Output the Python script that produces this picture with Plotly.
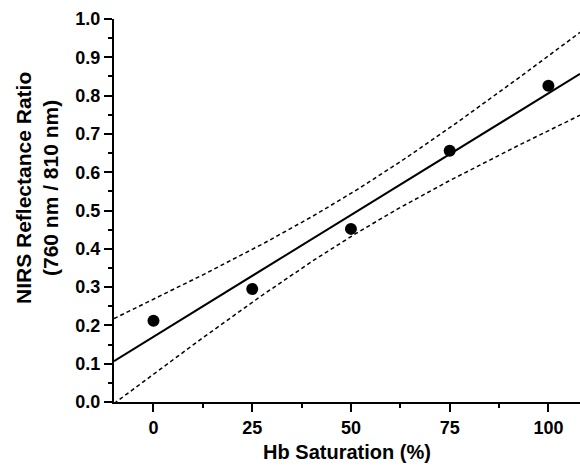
import numpy as np
import plotly.graph_objects as go

# Hb saturation (%) and measured NIRS reflectance ratio (760 nm / 810 nm)
saturation = [0, 25, 50, 75, 100]
ratio = [0.212, 0.295, 0.452, 0.656, 0.826]

x_ticks = [0, 25, 50, 75, 100]
y_ticks = [0.0, 0.1, 0.2, 0.3, 0.4, 0.5, 0.6, 0.7, 0.8, 0.9, 1.0]
x_range = [-10, 108]

# Linear regression with 95% confidence band of the mean
x = np.array(saturation, dtype=float)
y = np.array(ratio, dtype=float)
n = len(x)
slope, intercept = np.polyfit(x, y, 1)
resid = y - (slope * x + intercept)
s = np.sqrt(np.sum(resid ** 2) / (n - 2))
sxx = np.sum((x - x.mean()) ** 2)
t_crit = 3.182  # t(0.975, df=3)

xf = np.linspace(x_range[0], x_range[1], 200)
yf = slope * xf + intercept
half = t_crit * s * np.sqrt(1.0 / n + (xf - x.mean()) ** 2 / sxx)

font = dict(family="Liberation Sans, Arial, sans-serif", color="black")

fig = go.Figure()
fig.add_trace(go.Scatter(x=xf, y=yf + half, mode="lines",
                         line=dict(color="black", width=1.5, dash="4px,3px"),
                         hoverinfo="skip", showlegend=False))
fig.add_trace(go.Scatter(x=xf, y=yf - half, mode="lines",
                         line=dict(color="black", width=1.5, dash="4px,3px"),
                         hoverinfo="skip", showlegend=False))
fig.add_trace(go.Scatter(x=xf, y=yf, mode="lines",
                         line=dict(color="black", width=2),
                         showlegend=False))
fig.add_trace(go.Scatter(x=saturation, y=ratio, mode="markers",
                         marker=dict(color="black", size=12),
                         showlegend=False))

plot_left, plot_w = 114, 466
plot_top, plot_h = 19, 383

fig.update_layout(
    width=580, height=469,
    margin=dict(l=plot_left, r=0, t=plot_top, b=469 - plot_top - plot_h),
    paper_bgcolor="white", plot_bgcolor="white",
    font=font,
    annotations=[dict(
        text="<b>NIRS Reflectance Ratio<br>(760 nm / 810 nm)</b>",
        xref="paper", yref="paper",
        x=(37 - plot_left) / plot_w, y=(plot_top + plot_h - 188) / plot_h,
        xanchor="center", yanchor="middle", textangle=-90,
        showarrow=False, font=dict(size=21, **font),
    )],
)
fig.update_xaxes(
    range=x_range, tickvals=x_ticks, ticktext=[f"<b>{v}</b>" for v in x_ticks],
    showgrid=False, zeroline=False,
    showline=True, linecolor="black", linewidth=2,
    ticks="outside", ticklen=8, tickwidth=2, tickcolor="black",
    tickfont=dict(size=18, **font),
    minor=dict(tickvals=[12.5, 37.5, 62.5, 87.5], ticks="outside",
               ticklen=4, tickwidth=2, tickcolor="black"),
    title=dict(text="<b>Hb Saturation (%)</b>", font=dict(size=20, **font), standoff=8),
)
fig.update_yaxes(
    range=[0, 1.0], tickvals=y_ticks, ticktext=[f"<b>{v:.1f}</b>" for v in y_ticks],
    showgrid=False, zeroline=False,
    showline=True, linecolor="black", linewidth=2,
    ticks="outside", ticklen=8, tickwidth=2, tickcolor="black",
    tickfont=dict(size=18, **font),
    minor=dict(dtick=0.05, ticks="outside", ticklen=4, tickwidth=2, tickcolor="black"),
)

fig.write_html("out.html")
